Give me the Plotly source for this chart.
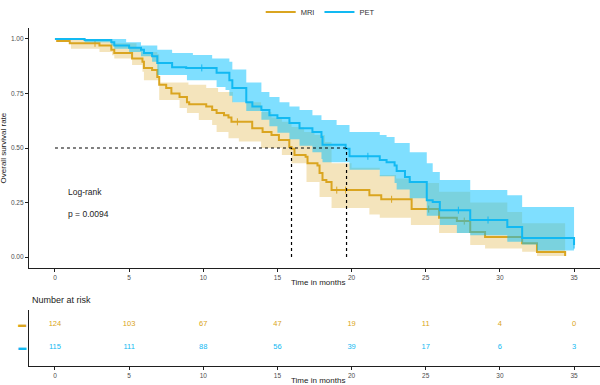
import numpy as np
import plotly.graph_objects as go

# ---------------- data ----------------
groups = ["MRI", "PET"]
colors = {"MRI": "#DAA520", "PET": "#12B9F2"}
fills = {"MRI": "rgba(218,165,32,0.30)", "PET": "rgba(0,191,255,0.50)"}

mri_t = [0, 0.15, 1.0, 3.0, 3.8, 4.0, 5.2, 5.9, 6.0, 6.55, 6.9, 7.03, 7.5, 7.85, 8.4, 8.9, 9.05,
         10.2, 10.6, 10.9, 11.4, 11.7, 11.9, 13.3, 14.0, 14.6, 15.1, 15.8, 15.95, 16.15, 16.9, 17.03,
         17.7, 17.84, 18.04, 18.3, 18.65, 21.2, 22.0, 24.05, 25.9, 27.1, 28.0, 29.0, 31.5, 32.5, 34.4]
mri_s = [1.0, 0.99, 0.98, 0.97, 0.95, 0.935, 0.91, 0.895, 0.867, 0.857, 0.826, 0.79, 0.775, 0.75,
         0.734, 0.71, 0.70, 0.69, 0.674, 0.66, 0.65, 0.64, 0.62, 0.59, 0.573, 0.56, 0.537, 0.505,
         0.497, 0.468, 0.46, 0.43, 0.42, 0.385, 0.353, 0.344, 0.307, 0.284, 0.265, 0.22, 0.18, 0.165,
         0.115, 0.092, 0.064, 0.023, 0.005]

mri_lo_t = [0, 1.08, 3.0, 3.85, 4.0, 5.2, 5.9, 6.0, 7.03, 8.4, 8.9, 9.7, 10.6, 10.9, 11.7, 12.4,
            13.9, 15.3, 15.95, 16.96, 17.84, 18.65, 21.2, 21.9, 24.0, 25.9, 28.0, 29.0, 31.5, 32.5, 34.4]
mri_lo = [1.0, 0.955, 0.94, 0.925, 0.91, 0.88, 0.85, 0.81, 0.72, 0.683, 0.66, 0.628, 0.605, 0.573,
          0.545, 0.53, 0.50, 0.468, 0.43, 0.344, 0.275, 0.225, 0.195, 0.18, 0.147, 0.11, 0.055, 0.04,
          0.025, 0.005, 0.0]

mri_hi_t = [0, 3.0, 3.85, 5.5, 5.9, 6.9, 7.03, 9.0, 10.2, 11.0, 12.0, 13.9, 14.6, 15.3, 15.95,
            16.8, 17.5, 18.2, 18.65, 20.0, 21.9, 23.0, 24.0, 25.9, 28.0, 30.5, 31.5, 34.4]
mri_hi = [1.0, 0.995, 0.98, 0.96, 0.94, 0.93, 0.80, 0.79, 0.775, 0.757, 0.71, 0.665, 0.64, 0.62,
          0.596, 0.573, 0.56, 0.527, 0.43, 0.41, 0.376, 0.36, 0.34, 0.30, 0.25, 0.207, 0.155, 0.155]

pet_t = [0, 2.0, 3.8, 4.0, 5.0, 5.8, 6.0, 6.55, 6.9, 7.9, 8.85, 10.9, 11.76, 11.96, 12.9, 13.31,
         13.92, 14.46, 15.0, 15.81, 16.49, 17.36, 17.97, 18.04, 19.6, 19.86, 21.9, 22.36, 22.9, 23.04,
         23.6, 23.92, 25.07, 25.47, 25.95, 28.0, 30.5, 31.5, 35.0]
pet_s = [1.0, 0.995, 0.985, 0.97, 0.96, 0.95, 0.935, 0.92, 0.89, 0.87, 0.867, 0.845, 0.81, 0.775,
         0.71, 0.69, 0.674, 0.65, 0.637, 0.615, 0.59, 0.573, 0.55, 0.515, 0.497, 0.462, 0.445, 0.435,
         0.42, 0.395, 0.367, 0.344, 0.26, 0.252, 0.215, 0.17, 0.138, 0.087, 0.055]

pet_lo_t = [0, 2.0, 3.8, 4.0, 5.0, 5.8, 6.55, 6.9, 8.9, 10.9, 11.5, 11.76, 11.96, 12.9, 13.92, 14.46,
            15.0, 15.81, 16.49, 17.36, 17.97, 18.04, 19.86, 21.9, 22.9, 23.04, 23.92, 25.07, 25.95,
            27.1, 28.0, 30.5, 31.5, 32.5, 35.0]
pet_lo = [1.0, 0.985, 0.97, 0.955, 0.94, 0.92, 0.895, 0.835, 0.81, 0.78, 0.766, 0.74, 0.71, 0.67,
          0.63, 0.60, 0.57, 0.54, 0.51, 0.48, 0.45, 0.435, 0.40, 0.37, 0.34, 0.31, 0.27, 0.19, 0.147,
          0.11, 0.10, 0.07, 0.058, 0.03, 0.03]

pet_hi_t = [0, 4.8, 5.8, 6.9, 7.9, 9.3, 10.6, 11.76, 11.96, 12.9, 13.92, 14.46, 15.14, 15.81, 16.49,
            17.36, 17.97, 18.99, 19.86, 21.9, 22.36, 22.9, 23.92, 25.07, 25.47, 25.95, 28.0, 30.5,
            31.5, 35.0]
pet_hi = [1.0, 0.985, 0.97, 0.95, 0.935, 0.926, 0.91, 0.895, 0.86, 0.80, 0.757, 0.734, 0.71, 0.69,
          0.674, 0.65, 0.628, 0.605, 0.573, 0.56, 0.55, 0.523, 0.48, 0.43, 0.39, 0.353, 0.307, 0.284,
          0.23, 0.23]

mri_censor = [2.7, 12.3, 19.0, 19.6, 22.7, 25.2, 27.6]
pet_censor = [9.9, 21.1, 27.2, 29.2, 35.0]

medians = {"MRI": 15.95, "PET": 19.66}
median_level = 0.5

risk_times = [0, 5, 10, 15, 20, 25, 30, 35]
risk_mri = [124, 103, 67, 47, 19, 11, 4, 0]
risk_pet = [115, 111, 88, 56, 39, 17, 6, 3]

x_ticks = [0, 5, 10, 15, 20, 25, 30, 35]
y_ticks = [0, 0.25, 0.5, 0.75, 1.0]
y_ticktext = ["0.00", "0.25", "0.50", "0.75", "1.00"]
logrank_text = ["Log-rank", "p = 0.0094"]

FONT = "Arial, Liberation Sans, sans-serif"
AX = "#1F1F1F"
TICKF = "#4D4D4D"


def step_at(times, vals, q):
    times = np.asarray(times)
    idx = np.searchsorted(times, np.asarray(q), side="right") - 1
    return np.asarray(vals)[idx]


fig = go.Figure()

data = {
    "MRI": (mri_t, mri_s, mri_lo_t, mri_lo, mri_hi_t, mri_hi, mri_censor),
    "PET": (pet_t, pet_s, pet_lo_t, pet_lo, pet_hi_t, pet_hi, pet_censor),
}

for g in groups:
    t, s, lt, lo, ht, hi, cens = data[g]
    fig.add_trace(go.Scatter(x=lt, y=lo, mode="lines", line=dict(width=0, shape="hv"),
                             showlegend=False, hoverinfo="skip", xaxis="x", yaxis="y"))
    fig.add_trace(go.Scatter(x=ht, y=hi, mode="lines", line=dict(width=0, shape="hv"),
                             fill="tonexty", fillcolor=fills[g], showlegend=False,
                             hoverinfo="skip", xaxis="x", yaxis="y"))
    fig.add_trace(go.Scatter(x=t, y=s, mode="lines", name=g,
                             line=dict(color=colors[g], width=2, shape="hv"),
                             xaxis="x", yaxis="y", legendgroup=g))
    fig.add_trace(go.Scatter(x=cens, y=step_at(t, s, cens), mode="markers", showlegend=False,
                             marker=dict(symbol="line-ns", size=5,
                                         line=dict(color=colors[g], width=1)),
                             xaxis="x", yaxis="y"))

# median lines
fig.add_trace(go.Scatter(x=[0, max(medians.values())], y=[median_level, median_level], mode="lines",
                         line=dict(color="black", width=1.2, dash="dot"), showlegend=False,
                         xaxis="x", yaxis="y"))
for g in groups:
    fig.add_trace(go.Scatter(x=[medians[g], medians[g]], y=[0, median_level], mode="lines",
                             line=dict(color="black", width=1.2, dash="dot"), showlegend=False,
                             xaxis="x", yaxis="y"))

# risk table
risk_rows = {"MRI": (1, risk_mri), "PET": (0, risk_pet)}
for g in groups:
    row, vals = risk_rows[g]
    fig.add_trace(go.Scatter(x=risk_times, y=[row] * len(risk_times), mode="text",
                             text=[str(v) for v in vals], showlegend=False,
                             textfont=dict(color=colors[g], size=7.5, family=FONT),
                             xaxis="x2", yaxis="y2"))

common_x = dict(range=[-1.75, 36.75], tickvals=x_ticks, ticks="outside", ticklen=3,
                tickcolor=AX, showline=True, linecolor=AX, linewidth=1.3, showgrid=False,
                zeroline=False, automargin=False,
                tickfont=dict(size=6.5, color=TICKF, family=FONT))

TXT = dict(color="#222222", family=FONT)

fig.update_layout(
    width=600, height=385,
    margin=dict(l=29, r=0, t=28, b=19, autoexpand=False),
    paper_bgcolor="white", plot_bgcolor="white",
    font=dict(family=FONT),
    xaxis=dict(domain=[0, 1], anchor="y", **common_x),
    yaxis=dict(domain=[0.2899, 1], anchor="x", range=[-0.05, 1.05], tickvals=y_ticks,
               ticktext=y_ticktext, ticks="outside", ticklen=3, tickcolor=AX, showline=True,
               linecolor=AX, linewidth=1.3, showgrid=False, zeroline=False, automargin=False,
               tickfont=dict(size=6.5, color=TICKF, family=FONT)),
    xaxis2=dict(domain=[0, 1], anchor="y2", **common_x),
    yaxis2=dict(domain=[0, 0.1657], anchor="x2", range=[-0.8, 1.6], tickvals=[0, 1],
                ticktext=['<span style="color:%s">▬</span>' % colors["PET"],
                          '<span style="color:%s">▬</span>' % colors["MRI"]],
                ticks="", showline=True, linecolor=AX, linewidth=1.3, showgrid=False,
                zeroline=False, automargin=False, tickfont=dict(size=8, family=FONT)),
    legend=dict(orientation="h", x=0.51, xanchor="center", y=1.047, yanchor="middle",
                font=dict(size=7.5, color="#333333", family=FONT), itemwidth=30,
                bgcolor="rgba(0,0,0,0)"),
    annotations=[
        dict(text="Overall survival rate", x=-0.043, y=0.645, xref="paper", yref="paper",
             xanchor="center", yanchor="middle", textangle=-90, showarrow=False,
             font=dict(size=8, **TXT)),
        dict(text="Time in months", x=0.506, y=0.2485, xref="paper", yref="paper",
             xanchor="center", yanchor="middle", showarrow=False, font=dict(size=8, **TXT)),
        dict(text="Time in months", x=0.506, y=-0.044, xref="paper", yref="paper",
             xanchor="center", yanchor="middle", showarrow=False, font=dict(size=8, **TXT)),
        dict(text="Number at risk", x=0.002, y=0.195, xref="paper", yref="paper",
             xanchor="left", yanchor="middle", showarrow=False, font=dict(size=9, **TXT)),
        dict(text=logrank_text[0], x=0.75, y=0.30, xref="x", yref="y", xanchor="left",
             yanchor="middle", showarrow=False, font=dict(size=8.5, **TXT)),
        dict(text=logrank_text[1], x=0.75, y=0.197, xref="x", yref="y", xanchor="left",
             yanchor="middle", showarrow=False, font=dict(size=8.5, **TXT)),
    ],
)

fig.write_html("out.html", config={"displayModeBar": False},
               post_script="document.body.style.margin='0';document.body.style.overflow='hidden';")
